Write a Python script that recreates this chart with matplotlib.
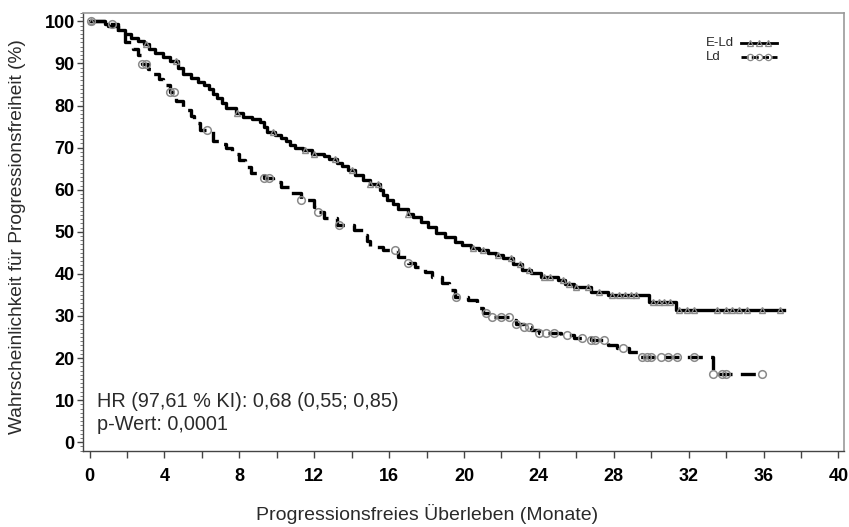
import numpy as np
import matplotlib
matplotlib.use("Agg")
import matplotlib.pyplot as plt
from matplotlib.ticker import MultipleLocator

# --- data ---
eld_time = [0, 0.8, 1.0, 1.5, 1.9, 2.2, 2.6, 2.9, 3.2, 3.5, 3.9, 4.3, 4.7, 5.0, 5.4, 5.8, 6.1,
            6.4, 6.6, 6.8, 7.1, 7.3, 7.8, 8.2, 8.7, 9.1, 9.3, 9.5, 9.9, 10.2, 10.5, 10.7, 11.0,
            11.4, 11.9, 12.5, 12.8, 13.2, 13.5, 13.8, 14.2, 14.6, 15.0, 15.5, 15.7, 15.9,
            16.2, 16.5, 17.0, 17.3, 17.7, 18.1, 18.5, 19.0, 19.5, 19.9, 20.4, 20.8, 21.3,
            21.7, 22.1, 22.6, 23.1, 23.6, 24.1, 25.0, 25.4, 25.9, 26.8, 27.7, 29.9, 31.3, 37.1]
eld_surv = [100, 99.5, 98.8, 98.0, 97.0, 96.0, 95.3, 94.7, 93.5, 92.4, 91.5, 90.5, 89.0, 87.6,
            86.6, 85.7, 84.8, 84.0, 82.8, 81.7, 80.6, 79.5, 78.3, 77.4, 76.8, 76.0, 74.8,
            73.6, 73.0, 72.4, 71.5, 70.7, 70.0, 69.5, 68.6, 67.9, 67.2, 66.4, 65.6, 64.8,
            63.6, 62.4, 61.3, 60.0, 58.8, 57.5, 56.5, 55.5, 54.3, 53.4, 52.4, 51.1, 49.8,
            48.7, 47.6, 46.9, 46.2, 45.6, 45.0, 44.4, 43.8, 42.4, 41.0, 40.1, 39.3, 38.6,
            37.7, 36.9, 35.7, 35.0, 33.3, 31.4, 31.4]
eld_censor = [0.1, 3.0, 4.6, 7.9, 9.8, 11.5, 12.0, 13.1, 14.0, 15.0, 15.4, 17.0, 20.5, 21.0,
              21.8, 22.5, 23.0, 23.5, 24.3, 24.6, 25.3, 25.6, 26.0, 26.6, 27.2, 27.9, 28.3,
              28.6, 28.9, 29.2, 30.1, 30.4, 30.7, 31.0, 31.5, 31.9, 32.3, 33.5, 34.0, 34.3,
              34.7, 35.1, 35.9, 36.9]

ld_time = [0, 1.0, 1.5, 1.9, 2.3, 2.6, 2.8, 3.1, 3.4, 3.7, 3.9, 4.3, 4.6, 5.0, 5.4, 5.6, 5.9,
           6.6, 6.9, 7.3, 7.6, 8.0, 8.3, 8.6, 9.3, 9.8, 10.2, 10.7, 11.3, 12.0, 12.2, 12.5,
           13.2, 14.1, 14.6, 14.8, 15.0, 15.7, 16.5, 17.0, 17.4, 17.9, 18.3, 18.8, 19.2,
           19.5, 20.2, 20.7, 21.0, 21.4, 22.5, 22.8, 23.2, 23.6, 24.0, 25.2, 25.9, 26.8,
           27.7, 28.2, 28.8, 29.3, 33.3, 35.9]
ld_surv = [100, 99.3, 97.0, 95.2, 93.5, 92.0, 89.8, 88.6, 87.4, 86.2, 85.0, 83.3, 81.0, 79.0,
           77.5, 75.9, 74.3, 71.6, 70.8, 70.0, 68.6, 67.1, 65.5, 64.0, 62.9, 61.8, 60.7,
           59.2, 57.6, 56.0, 54.6, 53.3, 51.7, 50.5, 49.3, 47.8, 46.4, 45.7, 44.0, 42.6,
           41.6, 40.5, 39.2, 37.9, 36.2, 34.5, 33.8, 31.9, 30.8, 29.8, 29.0, 28.2, 27.4,
           26.7, 26.0, 25.5, 24.8, 24.3, 23.1, 22.3, 21.4, 20.2, 16.3, 16.3]
ld_censor = [0.1, 1.2, 2.8, 3.0, 4.3, 4.5, 6.3, 9.3, 9.6, 11.3, 12.2, 13.3, 16.3, 17.0, 19.6,
             21.2, 21.5, 22.0, 22.4, 22.8, 23.2, 23.5, 24.0, 24.4, 24.8, 25.5, 26.3, 26.8,
             27.0, 27.5, 28.5, 29.5, 29.8, 30.0, 30.5, 30.9, 31.4, 32.3, 33.3, 33.8, 34.0,
             35.9]

series_names = ["E-Ld", "Ld"]
x_ticks = [0, 4, 8, 12, 16, 20, 24, 28, 32, 36, 40]
y_ticks = [0, 10, 20, 30, 40, 50, 60, 70, 80, 90, 100]


def step_value(times, surv, t):
    idx = np.searchsorted(times, t, side="right") - 1
    return np.asarray(surv)[np.clip(idx, 0, len(surv) - 1)]


plt.rcParams['font.family'] = ['Liberation Sans', 'DejaVu Sans']
TXT = "#2a2a2a"

fig = plt.figure(figsize=(8.49, 5.27), dpi=100)
ax = fig.add_axes([83 / 849, 1 - 451 / 527, (844 - 83) / 849, (451 - 13) / 527])

ld_dash = (0, (4.5, 2.5))
ax.plot(eld_time, eld_surv, drawstyle="steps-post", color="black", lw=2.4)
ax.plot(ld_time, ld_surv, drawstyle="steps-post", color="black", lw=2.4, linestyle=ld_dash)

ax.plot(eld_censor, step_value(eld_time, eld_surv, eld_censor), linestyle="none", marker="^",
        ms=5, mfc="none", mec="#8a8a8a", mew=1.0)
ax.plot(ld_censor, step_value(ld_time, ld_surv, ld_censor), linestyle="none", marker="o",
        ms=5.5, mfc="none", mec="#8a8a8a", mew=1.1)

ax.set_xlim(-0.35, 40.3)
ax.set_ylim(-2.1, 102.0)
ax.set_xticks(x_ticks)
ax.set_yticks(y_ticks)
ax.xaxis.set_minor_locator(MultipleLocator(2))
ax.yaxis.set_minor_locator(MultipleLocator(1))

tick_font = dict(family=['Liberation Sans Narrow', 'Liberation Sans', 'DejaVu Sans'],
                 weight='bold', size=13)
ax.set_xticklabels([str(v) for v in x_ticks], fontdict=tick_font)
ax.set_yticklabels([str(v) for v in y_ticks], fontdict=tick_font)
ax.tick_params(axis="x", which="both", direction="out", length=5, width=1, color="#444",
               pad=7)
ax.tick_params(axis="y", which="major", direction="out", length=4, width=1, color="#444",
               pad=2)
ax.tick_params(axis="y", which="minor", direction="out", length=2, width=0.6, color="#666")

for side in ["left", "bottom"]:
    ax.spines[side].set_color("#444")
    ax.spines[side].set_linewidth(1.0)
for side in ["top", "right"]:
    ax.spines[side].set_color("#999")
    ax.spines[side].set_linewidth(1.2)

ax.set_xlabel("Progressionsfreies Überleben (Monate)", fontsize=14, color=TXT)
ax.xaxis.set_label_coords(0.452, -0.12)
ax.set_ylabel("Wahrscheinlichkeit für Progressionsfreiheit (%)", fontsize=13.8, color=TXT)
ax.yaxis.set_label_coords(-0.075, 0.489)

ax.text(0.4, 9.6, "HR (97,61 % KI): 0,68 (0,55; 0,85)", fontsize=14.3, color=TXT,
        va="center", ha="left")
ax.text(0.4, 4.2, "p-Wert: 0,0001", fontsize=14.3, color=TXT, va="center", ha="left")

# legend (text first, sample line after), placed in axes coordinates
leg_styles = [dict(ls="-", marker="^", ms=4, mew=0.9), dict(ls=(0, (2.5, 1.2)), marker="o",
                                                             ms=4.5, mew=0.9)]
leg_y = [0.932, 0.900]
for name, st, yy in zip(series_names, leg_styles, leg_y):
    ax.text(0.818, yy, name, transform=ax.transAxes, fontsize=9.5, color=TXT,
            va="center", ha="left")
    ax.plot([0.864, 0.876, 0.888, 0.900, 0.912], [yy] * 5, transform=ax.transAxes,
            color="black", lw=2, linestyle=st["ls"], marker=st["marker"], ms=st["ms"],
            mfc="none", mec="#8a8a8a", mew=st["mew"], markevery=[1, 2, 3], clip_on=False)

fig.savefig("out.png", dpi=100)
